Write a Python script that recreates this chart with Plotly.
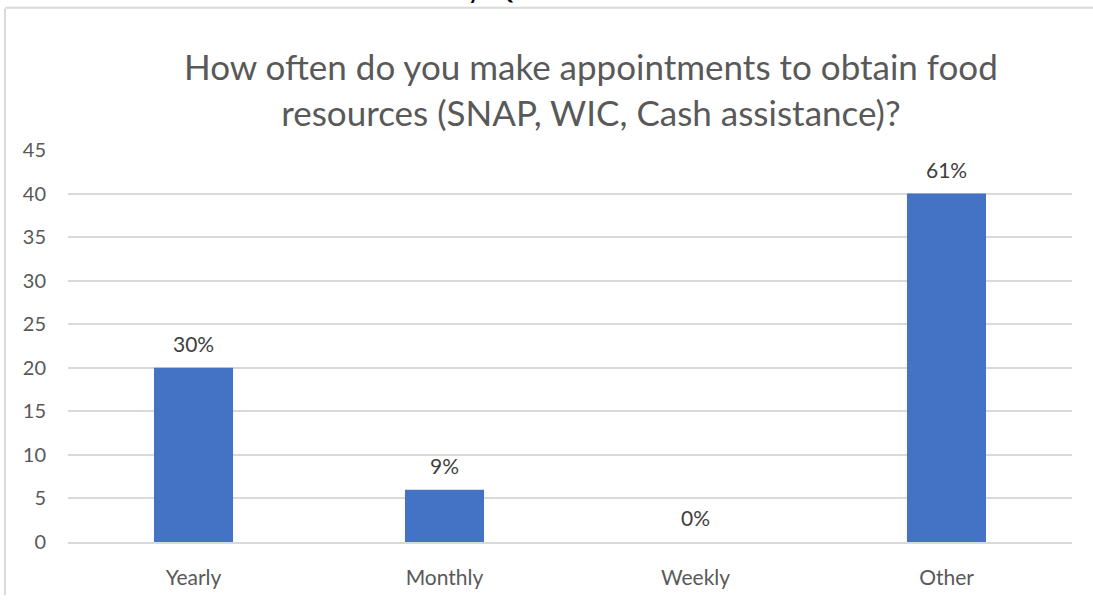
import plotly.graph_objects as go

# Survey responses: how often respondents book appointments for food resources
categories = ["Yearly", "Monthly", "Weekly", "Other"]
counts = [20, 6, 0, 40]
pct_labels = ["30%", "9%", "0%", "61%"]

y_ticks = [0, 5, 10, 15, 20, 25, 30, 35, 40, 45]

TEXT_GREY = "#595959"
GRID_GREY = "#d9d9d9"
BAR_BLUE = "#4472c4"
FONT = "Lato, Carlito, Calibri, sans-serif"

W, H = 1093, 601
M_L, M_R, M_T, M_B = 68, 21, 150, 54
pw, ph = W - M_L - M_R, H - M_T - M_B

fig = go.Figure(
    go.Bar(
        x=categories,
        y=counts,
        marker=dict(color=BAR_BLUE, line=dict(width=0)),
        width=0.315,
        hoverinfo="skip",
    )
)

# Percentage labels above each bar
for cat, val, lab in zip(categories, counts, pct_labels):
    fig.add_annotation(
        x=cat, y=val, text=lab, showarrow=False,
        yanchor="bottom", yshift=10,
        font=dict(family=FONT, size=21, color="#404040"),
    )

# Chart title (two lines)
fig.add_annotation(
    xref="paper", yref="paper",
    x=(591 - M_L) / pw, y=1 + (M_T - 88) / ph,
    xanchor="center", yanchor="middle",
    text="How often do you make appointments to obtain food<br>resources (SNAP, WIC, Cash assistance)?",
    showarrow=False,
    font=dict(family=FONT, size=35, color=TEXT_GREY),
)

# Edge of the slide heading above the chart frame
fig.add_annotation(
    xref="paper", yref="paper",
    x=(490 - M_L) / pw, y=1 + (M_T - 4) / ph,
    xanchor="center", yanchor="bottom",
    text="y Q", showarrow=False,
    font=dict(family=FONT, size=30, color="black"),
)

# Light frame of the chart area (left and top edges)
fig.add_shape(type="line", xref="paper", yref="paper",
              x0=(5 - M_L) / pw, x1=(5 - M_L) / pw,
              y0=(H - M_B - 7) / ph, y1=(H - M_B - 601) / ph,
              line=dict(color="#d9d9d9", width=2))
fig.add_shape(type="line", xref="paper", yref="paper",
              x0=(5 - M_L) / pw, x1=(W - M_L) / pw,
              y0=(H - M_B - 6) / ph, y1=(H - M_B - 6) / ph,
              line=dict(color="#d9d9d9", width=2))

fig.update_layout(
    width=W, height=H,
    margin=dict(l=M_L, r=M_R, t=M_T, b=M_B),
    paper_bgcolor="white", plot_bgcolor="white",
    showlegend=False,
    font=dict(family=FONT, color=TEXT_GREY),
    xaxis=dict(
        showgrid=False, showline=True, linecolor=GRID_GREY, linewidth=2,
        ticks="", ticklabelstandoff=16,
        tickfont=dict(family=FONT, size=21, color=TEXT_GREY),
        range=[-0.5, 3.5],
    ),
    yaxis=dict(
        range=[0, 45], tickvals=y_ticks,
        showgrid=True, gridcolor=GRID_GREY, gridwidth=1.5,
        zeroline=False, showline=False, ticks="",
        ticklabelstandoff=21,
        tickfont=dict(family=FONT, size=20, color=TEXT_GREY),
    ),
)

fig.write_html("out.html")
